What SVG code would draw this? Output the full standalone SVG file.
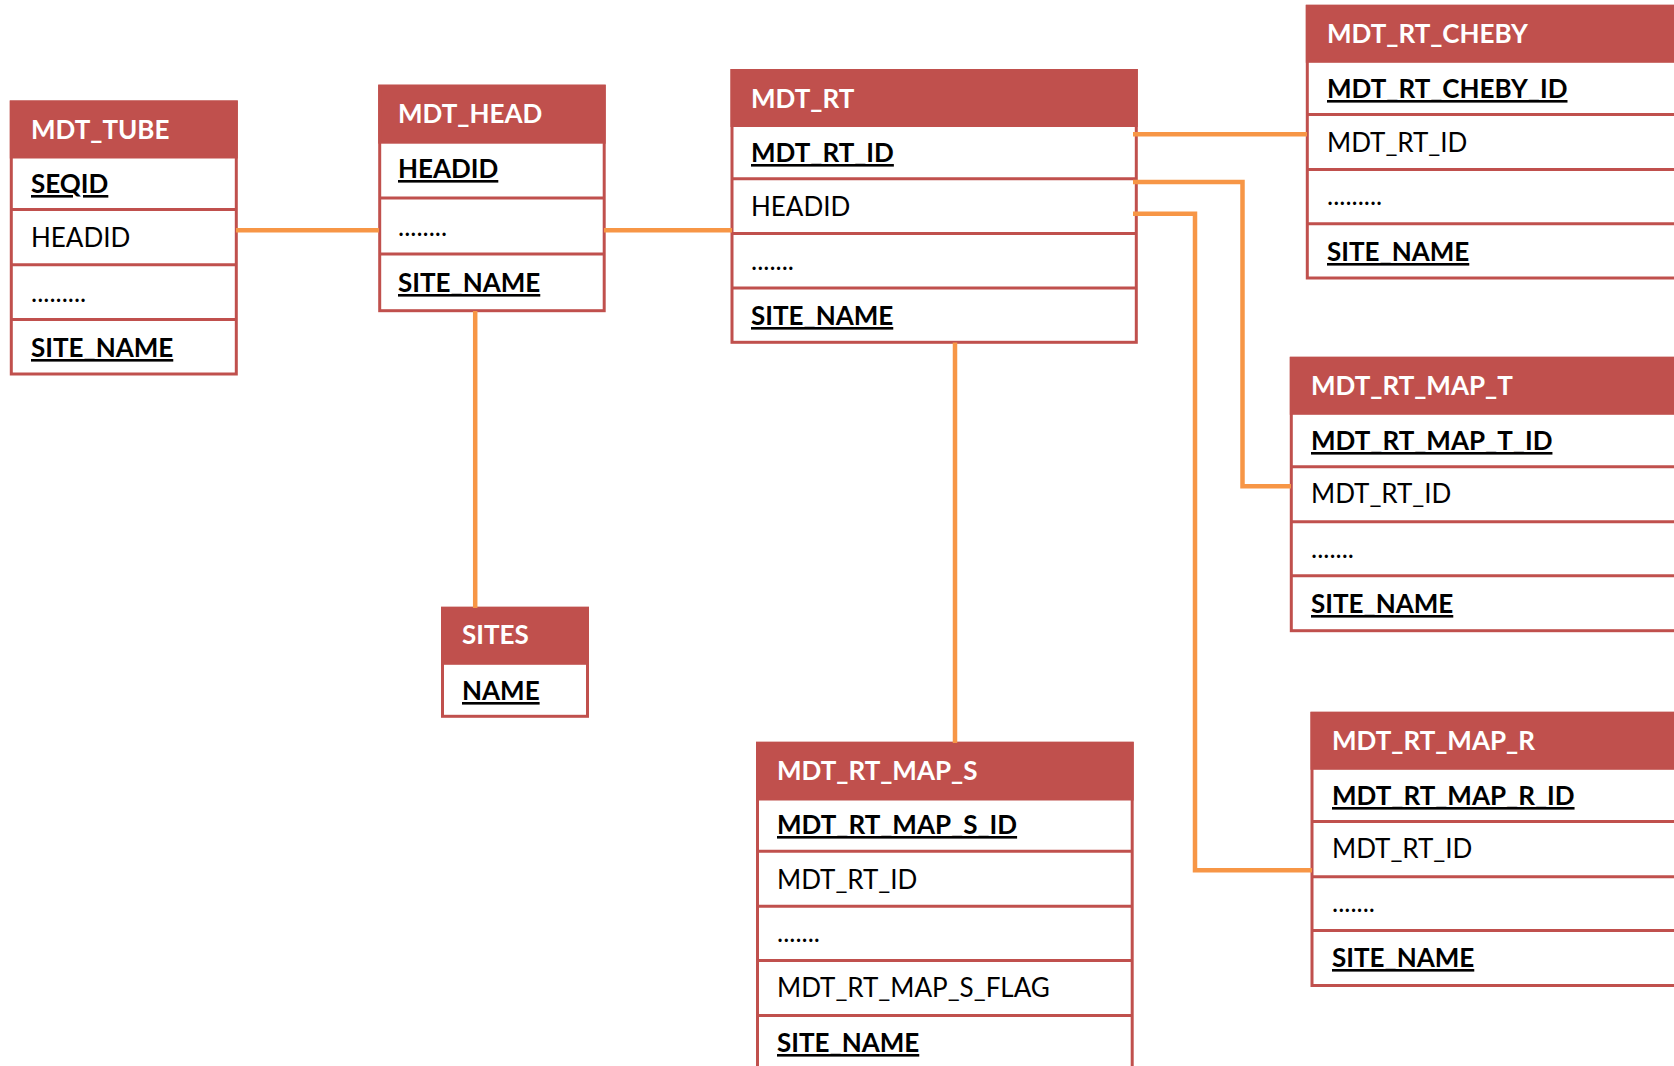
<svg xmlns="http://www.w3.org/2000/svg" width="1674" height="1066" viewBox="0 0 1674 1066">
  <style>
    .box { fill: #ffffff; stroke: #C0504D; stroke-width: 3; }
    .hdr { fill: #C0504D; stroke: #C0504D; stroke-width: 3; }
    .sep { stroke: #C0504D; stroke-width: 3; }
    .link { fill: none; stroke: #F79646; stroke-width: 4.5; stroke-linejoin: miter; }
    text { font-family: Lato, "Open Sans", "Liberation Sans", sans-serif; font-size: 26px; }
    .title { fill: #ffffff; font-weight: 700; }
    .fld { fill: #000000; }
    .key { fill: #000000; font-weight: 700; text-decoration: underline; }
  </style>
  <rect width="1674" height="1066" fill="#ffffff"/>

  <!-- MDT_TUBE -->
  <g id="mdt_tube">
    <rect class="box" x="11.3" y="102" width="225" height="272"/>
    <rect class="hdr" x="11.3" y="102" width="225" height="55"/>
    <line class="sep" x1="11.3" y1="209.5" x2="236.3" y2="209.5"/>
    <line class="sep" x1="11.3" y1="264.7" x2="236.3" y2="264.7"/>
    <line class="sep" x1="11.3" y1="319.5" x2="236.3" y2="319.5"/>
    <text class="title" x="31" y="139">MDT_TUBE</text>
    <text class="key" x="31" y="193">SEQID</text>
    <text class="fld" x="31" y="247">HEADID</text>
    <text class="fld" x="31" y="302">.........</text>
    <text class="key" x="31" y="357">SITE_NAME</text>
  </g>

  <!-- MDT_HEAD -->
  <g id="mdt_head">
    <rect class="box" x="379.7" y="86.2" width="224.5" height="224.5"/>
    <rect class="hdr" x="379.7" y="86.2" width="224.5" height="56"/>
    <line class="sep" x1="379.7" y1="198" x2="604.2" y2="198"/>
    <line class="sep" x1="379.7" y1="254" x2="604.2" y2="254"/>
    <text class="title" x="398" y="123">MDT_HEAD</text>
    <text class="key" x="398" y="178">HEADID</text>
    <text class="fld" x="398" y="236">........</text>
    <text class="key" x="398" y="292">SITE_NAME</text>
  </g>

  <!-- MDT_RT -->
  <g id="mdt_rt">
    <rect class="box" x="732" y="70.5" width="404.3" height="271.8"/>
    <rect class="hdr" x="732" y="70.5" width="404.3" height="55"/>
    <line class="sep" x1="732" y1="178.7" x2="1136.3" y2="178.7"/>
    <line class="sep" x1="732" y1="233.5" x2="1136.3" y2="233.5"/>
    <line class="sep" x1="732" y1="288" x2="1136.3" y2="288"/>
    <text class="title" x="751" y="108">MDT_RT</text>
    <text class="key" x="751" y="162">MDT_RT_ID</text>
    <text class="fld" x="751" y="216">HEADID</text>
    <text class="fld" x="751" y="270">.......</text>
    <text class="key" x="751" y="325">SITE_NAME</text>
  </g>

  <!-- MDT_RT_CHEBY (runs past the right edge) -->
  <g id="mdt_rt_cheby">
    <rect class="box" x="1307.3" y="6.3" width="380" height="271.7"/>
    <rect class="hdr" x="1307.3" y="6.3" width="380" height="55"/>
    <line class="sep" x1="1307.3" y1="114.5" x2="1690" y2="114.5"/>
    <line class="sep" x1="1307.3" y1="169.5" x2="1690" y2="169.5"/>
    <line class="sep" x1="1307.3" y1="223.8" x2="1690" y2="223.8"/>
    <text class="title" x="1327" y="43">MDT_RT_CHEBY</text>
    <text class="key" x="1327" y="98">MDT_RT_CHEBY_ID</text>
    <text class="fld" x="1327" y="152">MDT_RT_ID</text>
    <text class="fld" x="1327" y="205">.........</text>
    <text class="key" x="1327" y="261">SITE_NAME</text>
  </g>

  <!-- MDT_RT_MAP_T -->
  <g id="mdt_rt_map_t">
    <rect class="box" x="1291.3" y="358.3" width="400" height="272.4"/>
    <rect class="hdr" x="1291.3" y="358.3" width="400" height="55"/>
    <line class="sep" x1="1291.3" y1="466.8" x2="1691" y2="466.8"/>
    <line class="sep" x1="1291.3" y1="521.8" x2="1691" y2="521.8"/>
    <line class="sep" x1="1291.3" y1="575.8" x2="1691" y2="575.8"/>
    <text class="title" x="1311" y="395">MDT_RT_MAP_T</text>
    <text class="key" x="1311" y="450">MDT_RT_MAP_T_ID</text>
    <text class="fld" x="1311" y="503">MDT_RT_ID</text>
    <text class="fld" x="1311" y="558">.......</text>
    <text class="key" x="1311" y="613">SITE_NAME</text>
  </g>

  <!-- MDT_RT_MAP_R -->
  <g id="mdt_rt_map_r">
    <rect class="box" x="1312" y="713.3" width="380" height="272.2"/>
    <rect class="hdr" x="1312" y="713.3" width="380" height="55"/>
    <line class="sep" x1="1312" y1="821.5" x2="1692" y2="821.5"/>
    <line class="sep" x1="1312" y1="876.8" x2="1692" y2="876.8"/>
    <line class="sep" x1="1312" y1="930.5" x2="1692" y2="930.5"/>
    <text class="title" x="1332" y="750">MDT_RT_MAP_R</text>
    <text class="key" x="1332" y="805">MDT_RT_MAP_R_ID</text>
    <text class="fld" x="1332" y="858">MDT_RT_ID</text>
    <text class="fld" x="1332" y="912">.......</text>
    <text class="key" x="1332" y="967">SITE_NAME</text>
  </g>

  <!-- SITES -->
  <g id="sites">
    <rect class="box" x="442.5" y="608.3" width="145" height="108"/>
    <rect class="hdr" x="442.5" y="608.3" width="145" height="55"/>
    <text class="title" x="462" y="644">SITES</text>
    <text class="key" x="462" y="700">NAME</text>
  </g>

  <!-- MDT_RT_MAP_S (runs past the bottom edge) -->
  <g id="mdt_rt_map_s">
    <rect class="box" x="757.5" y="743.3" width="374.7" height="340"/>
    <rect class="hdr" x="757.5" y="743.3" width="374.7" height="55.7"/>
    <line class="sep" x1="757.5" y1="851.3" x2="1132.2" y2="851.3"/>
    <line class="sep" x1="757.5" y1="906.3" x2="1132.2" y2="906.3"/>
    <line class="sep" x1="757.5" y1="960.5" x2="1132.2" y2="960.5"/>
    <line class="sep" x1="757.5" y1="1015.5" x2="1132.2" y2="1015.5"/>
    <text class="title" x="777" y="780">MDT_RT_MAP_S</text>
    <text class="key" x="777" y="834">MDT_RT_MAP_S_ID</text>
    <text class="fld" x="777" y="889">MDT_RT_ID</text>
    <text class="fld" x="777" y="942">.......</text>
    <text class="fld" x="777" y="997">MDT_RT_MAP_S_FLAG</text>
    <text class="key" x="777" y="1052">SITE_NAME</text>
  </g>

  <!-- relationship lines -->
  <g id="connectors">
    <line class="link" x1="236" y1="230.3" x2="379" y2="230.3"/>
    <line class="link" x1="604" y1="230.3" x2="732" y2="230.3"/>
    <line class="link" x1="475.2" y1="311" x2="475.2" y2="608"/>
    <line class="link" x1="955" y1="342.5" x2="955" y2="743"/>
    <line class="link" x1="1133" y1="134.2" x2="1307" y2="134.2"/>
    <polyline class="link" points="1133,182 1242.5,182 1242.5,486.2 1291,486.2"/>
    <polyline class="link" points="1133,213.7 1195,213.7 1195,870.2 1312,870.2"/>
  </g>
</svg>
